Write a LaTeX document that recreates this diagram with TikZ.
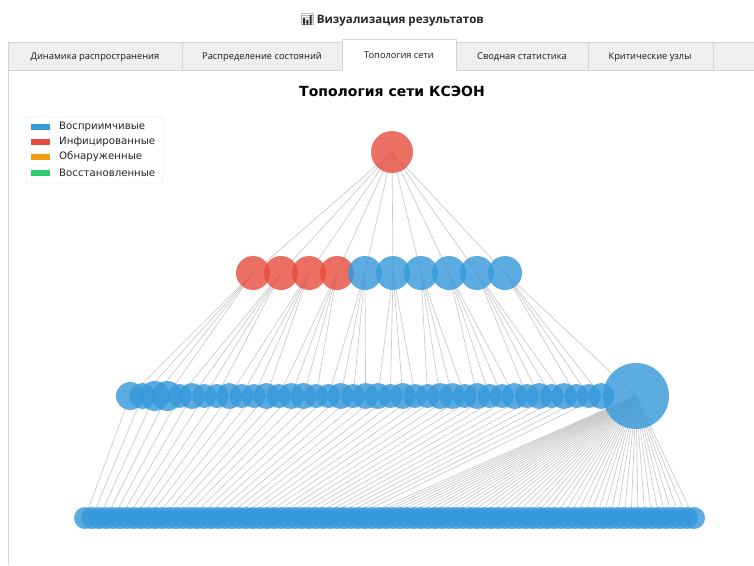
\documentclass[tikz,border=0pt]{standalone}
\usepackage{fontspec}
\setmainfont{DejaVu Sans}
\newfontfamily\uifont{Open Sans}
\newfontfamily\emojifont{Noto Emoji}
\pgfdeclarelayer{bg}
\pgfsetlayers{bg,main}
\definecolor{susc}{HTML}{3498DB}
\definecolor{infc}{HTML}{E74C3C}
\definecolor{detc}{HTML}{F39C12}
\definecolor{recc}{HTML}{2ECC71}
\definecolor{edgec}{HTML}{C8C8C8}
\definecolor{tabbg}{HTML}{EFEFEF}
\definecolor{tabline}{HTML}{D4D4D4}
\tikzset{
  nd/.style={circle, inner sep=0pt, minimum size=#1, fill opacity=0.8, draw=none},
  edgeline/.style={draw=edgec, line width=0.65pt},
  tabtext/.style={font=\uifont\fontsize{9.3}{10}\selectfont, text=black!90, anchor=center},
  legtext/.style={font=\fontsize{10.2}{11}\selectfont, text=black!85, anchor=west, inner sep=0pt},
  legpatch/.style={minimum width=19pt, minimum height=6.5pt, inner sep=0pt, draw=none}
}
\begin{document}
\begin{tikzpicture}[x=1pt,y=-1pt]
\useasboundingbox (0,0) rectangle (754,565);
\begin{pgfonlayer}{bg}
\fill[white] (0,0) rectangle (754,565);
\end{pgfonlayer}
% header
\node[font=\uifont\bfseries\fontsize{11.6}{13}\selectfont, text=black!85] (hdr) at (392,20) {{\emojifont 📊}\,Визуализация результатов};
% tabs
\fill[tabbg] (8,42) rectangle (754,70);
\draw[tabline] (8,70) -- (8,42) -- (754,42);
\draw[tabline] (8,70) -- (754,70);
\foreach \xs in {182,342,456,588,713} \draw[tabline] (\xs,42) -- (\xs,70);
\fill[white] (342,39) rectangle (456,71);
\draw[tabline] (342,71) -- (342,39) -- (456,39) -- (456,71);
\node[tabtext] (t1) at (95,57) {Динамика распространения};
\node[tabtext] (t2) at (262,57) {Распределение состояний};
\node[tabtext] (t3) at (399,55) {Топология сети};
\node[tabtext] (t4) at (522,57) {Сводная статистика};
\node[tabtext] (t5) at (650,57) {Критические узлы};
\draw[tabline] (8,70) -- (8,565);
% title
\node[font=\bfseries\fontsize{14}{16}\selectfont] (title) at (392,91) {Топология сети КСЭОН};
% legend
\draw[draw=black!15, fill=white, rounded corners=2pt] (26,117) rectangle (163,183);
\node[legpatch, fill=susc] (p1) at (40,127) {};
\node[legpatch, fill=infc] (p2) at (40,142) {};
\node[legpatch, fill=detc] (p3) at (40,157) {};
\node[legpatch, fill=recc] (p4) at (40,173) {};
\node[legtext] (l1) at (59,127) {Восприимчивые};
\node[legtext] (l2) at (59,142) {Инфицированные};
\node[legtext] (l3) at (59,157) {Обнаруженные};
\node[legtext] (l4) at (59,173) {Восстановленные};
% nodes
\node[nd=42pt, fill=infc] (root) at (392,152) {};
\foreach \i in {0,...,9} {
  \pgfmathsetmacro\xx{253+28*\i}
  \ifnum\i<4 \def\cc{infc}\else\def\cc{susc}\fi
  \node[nd=34pt, fill=\cc] (L2-\i) at (\xx,273) {};
}
\foreach \j in {0,...,38} {
  \pgfmathsetmacro\xx{130+12.4*\j}
  \pgfmathsetmacro\rr{{28,26,30,30,24,26,24,24,26,24,24,26,24,26,26,24,24,26,24,26,26,24,26,24,24,26,26,24,26,24,24,26,24,26,24,26,24,24,26}[\j]}
  \node[nd=\rr pt, fill=susc] (L3-\j) at (\xx,396) {};
}
\node[nd=66pt, fill=susc] (L3-39) at (636,396) {};
\foreach \k in {0,...,87} {
  \pgfmathsetmacro\xx{85+7*\k}
  \node[nd=22pt, fill=susc] (B-\k) at (\xx,518) {};
}
% edges
\begin{pgfonlayer}{bg}
\foreach \i in {0,...,9} \draw[edgeline] (root.center) -- (L2-\i.center);
\foreach \j in {0,...,39} {
  \pgfmathtruncatemacro\pp{floor(\j/4)}
  \draw[edgeline] (L2-\pp.center) -- (L3-\j.center);
}
\foreach \k in {0,...,87} {
  \ifnum\k<39 \def\pn{L3-\k}\else\def\pn{L3-39}\fi
  \draw[edgeline] (\pn.center) -- (B-\k.center);
}
\end{pgfonlayer}
\end{tikzpicture}
\end{document}
